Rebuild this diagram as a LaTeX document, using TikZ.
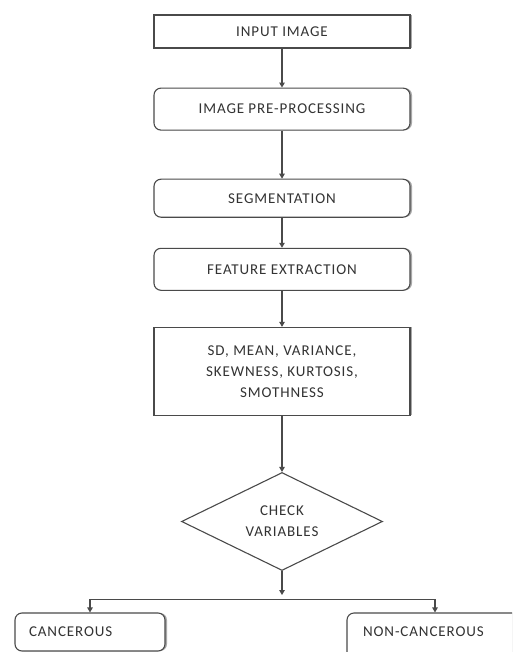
\documentclass[tikz,border=0pt]{standalone}
\usepackage{fontspec}
\setmainfont[LetterSpace=6]{Carlito}
\usetikzlibrary{arrows.meta,positioning,shapes.geometric,shadows}
\definecolor{FlowLine}{HTML}{4A4A4A}
\definecolor{FlowText}{HTML}{333333}
\definecolor{FlowShade}{HTML}{A8A8A8}
\begin{document}
\begin{tikzpicture}[x=1pt,y=1pt,every node/.style={font=\fontsize{15}{21}\selectfont,align=center,text=FlowText},
    stepbox/.style={draw=FlowLine,line width=1.1pt,fill=white,minimum width=256pt,general shadow={fill=FlowShade,shadow xshift=2pt,shadow yshift=0pt}},
    roundbox/.style={stepbox,rounded corners=7pt},
    decision/.style={diamond,draw=FlowLine,line width=1.1pt,fill=white,aspect=2,minimum width=201pt,minimum height=98pt,inner sep=0pt},
    arr/.style={-{Triangle[length=5pt,width=5.5pt]},line width=1.1pt,draw=FlowLine}]
    \useasboundingbox (0,0) rectangle (512,-652);
    \clip (0,0) rectangle (512,-652);
    \node[stepbox,minimum height=33pt] (input) at (282,-31.5) {INPUT IMAGE};
    \node[roundbox,minimum height=42pt,below=39pt of input] (pre) {IMAGE PRE-PROCESSING};
    \node[roundbox,minimum height=38pt,below=48pt of pre] (seg) {SEGMENTATION};
    \node[roundbox,minimum height=42pt,below=30pt of seg] (feat) {FEATURE EXTRACTION};
    \node[stepbox,minimum height=88pt,below=36pt of feat] (stats) {SD, MEAN, VARIANCE,\\SKEWNESS, KURTOSIS,\\SMOTHNESS};
    \node[decision,below=56pt of stats] (check) {CHECK\\VARIABLES};
    \coordinate[below=28pt of check.south] (fork);
    \node[roundbox,minimum width=150pt,minimum height=38pt,text width=122pt,inner xsep=14pt,align=left] (canc) at (90,-632) {CANCEROUS};
    \node[roundbox,minimum width=176pt,minimum height=50pt,text width=144pt,inner xsep=16pt,align=left,text depth=12pt] (noncanc) at (435,-638) {NON-CANCEROUS};
    \foreach \a/\b in {input/pre,pre/seg,seg/feat,feat/stats,stats/check}{\draw[arr] (\a)--(\b);}
    \draw[arr,shorten >=4pt] (check.south)--(fork);
    \draw[arr] (fork)-|(canc.north);
    \draw[arr] (fork)-|(noncanc.north);
\end{tikzpicture}
\end{document}
